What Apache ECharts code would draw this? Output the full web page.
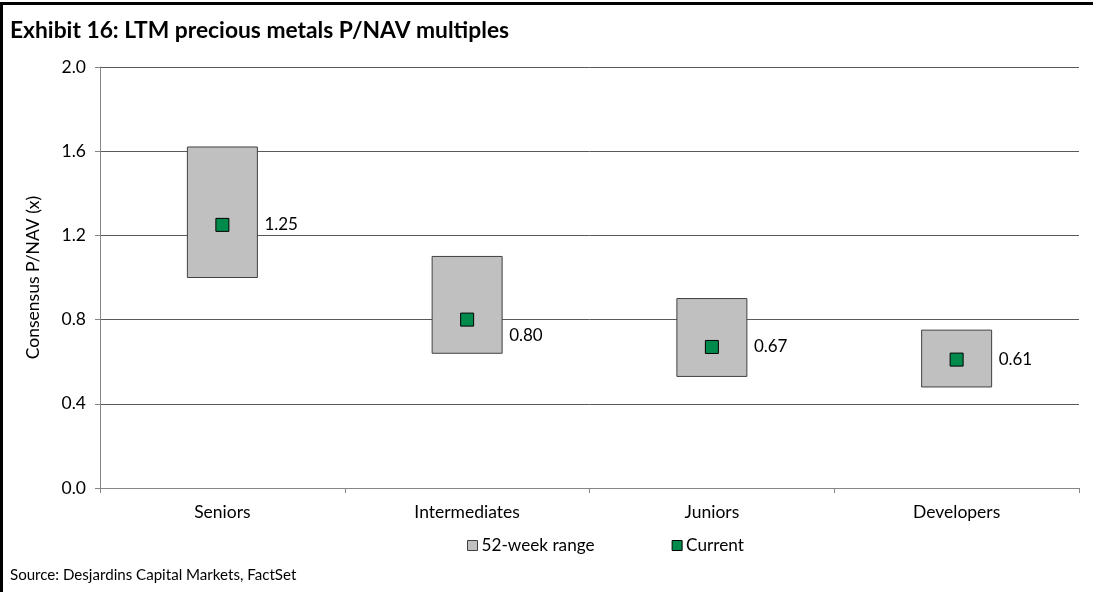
<!DOCTYPE html>
<html>
<head>
<meta charset="utf-8">
<style>
  html, body { margin: 0; padding: 0; background: #fff; }
  #chart { width: 1096px; height: 592px; }
</style>
<script src="https://cdn.jsdelivr.net/npm/echarts@6/dist/echarts.min.js"></script>
</head>
<body>
<div id="chart"></div>
<script>
// LTM precious metals P/NAV multiples by company tier
const categories = ['Seniors', 'Intermediates', 'Juniors', 'Developers'];
const rangeLow = [1.00, 0.64, 0.53, 0.48];
const rangeHigh = [1.62, 1.10, 0.90, 0.75];
const current = [1.25, 0.80, 0.67, 0.61];
const yTicks = [0, 0.4, 0.8, 1.2, 1.6, 2.0];

const FONT = 'Lato, "Open Sans", sans-serif';
const GREY_FILL = '#c0c0c0';
const GREEN = '#008a4b';
const BODY_SIZE = 17.5;

// value label nudges per tier (Intermediates sits on a gridline, so it drops below)
const labelNudge = [[0, 0], [0, 16], [0, 0], [0, 0]];

const chart = echarts.init(document.getElementById('chart'), null, { renderer: 'canvas' });

const option = {
  animation: false,
  backgroundColor: '#fff',
  textStyle: { fontFamily: FONT },
  graphic: [
    // frame: top and left rules
    { type: 'rect', shape: { x: 0, y: 2, width: 1093, height: 3 }, style: { fill: '#000' }, silent: true },
    { type: 'rect', shape: { x: 0, y: 2, width: 3, height: 590 }, style: { fill: '#000' }, silent: true },
    { type: 'text', left: 10, top: 19, style: { text: 'Exhibit 16: LTM precious metals P/NAV multiples', fontFamily: FONT, fontWeight: 'bold', fontSize: 22.8, fill: '#000' } },
    { type: 'text', left: 10, top: 568, style: { text: 'Source: Desjardins Capital Markets, FactSet', fontFamily: FONT, fontSize: 15.1, fill: '#000' } }
  ],
  grid: { left: 100, right: 17, top: 67, bottom: 104, containLabel: false },
  legend: {
    data: [
      { name: '52-week range', icon: 'rect', itemStyle: { color: GREY_FILL, borderColor: '#404040', borderWidth: 1 } },
      { name: 'Current', icon: 'rect', itemStyle: { color: GREEN, borderColor: '#000', borderWidth: 1 } }
    ],
    left: 462, top: 532, itemWidth: 10, itemHeight: 10, itemGap: 77,
    textStyle: { fontFamily: FONT, fontSize: 17.2, color: '#000', padding: [0, 0, 0, -1] },
    selectedMode: false
  },
  xAxis: {
    type: 'category',
    data: categories,
    boundaryGap: true,
    axisLine: { lineStyle: { color: '#868686', width: 1 } },
    axisTick: { show: true, length: 5, lineStyle: { color: '#868686' } },
    axisLabel: { fontFamily: FONT, fontSize: BODY_SIZE, color: '#000', margin: 15 },
    splitLine: { show: false }
  },
  yAxis: {
    type: 'value',
    min: yTicks[0], max: yTicks[yTicks.length - 1], interval: 0.4,
    name: 'Consensus P/NAV (x)',
    nameLocation: 'middle', nameGap: 58, nameRotate: 90,
    nameTextStyle: { fontFamily: FONT, fontSize: BODY_SIZE, color: '#000' },
    axisLine: { show: true, lineStyle: { color: '#868686', width: 1 } },
    axisTick: { show: true, length: 5, lineStyle: { color: '#868686' } },
    axisLabel: { fontFamily: FONT, fontSize: BODY_SIZE, color: '#000', margin: 14, formatter: v => v.toFixed(1) },
    splitLine: { show: true, lineStyle: { color: '#595959', width: 1 } }
  },
  series: [
    {
      name: '52-week range',
      type: 'custom',
      data: categories.map((c, i) => [i, rangeLow[i], rangeHigh[i]]),
      encode: { x: 0, y: [1, 2] },
      renderItem: function (params, api) {
        const lo = api.coord([api.value(0), api.value(1)]);
        const hi = api.coord([api.value(0), api.value(2)]);
        const w = 70;
        return {
          type: 'rect',
          shape: { x: lo[0] - w / 2, y: hi[1], width: w, height: lo[1] - hi[1] },
          style: { fill: GREY_FILL, stroke: '#404040', lineWidth: 1 }
        };
      },
      itemStyle: { color: GREY_FILL },
      z: 2
    },
    {
      name: 'Current',
      type: 'scatter',
      symbol: 'rect',
      symbolSize: 13,
      data: current.map((v, i) => ({
        value: [i, v],
        label: { offset: labelNudge[i] }
      })),
      itemStyle: { color: GREEN, borderColor: '#000', borderWidth: 1, opacity: 1 },
      label: {
        show: true, position: 'right', distance: 35,
        fontFamily: FONT, fontSize: 17, color: '#000',
        formatter: p => p.value[1].toFixed(2)
      },
      z: 3
    }
  ]
};

chart.setOption(option);
</script>
</body>
</html>
